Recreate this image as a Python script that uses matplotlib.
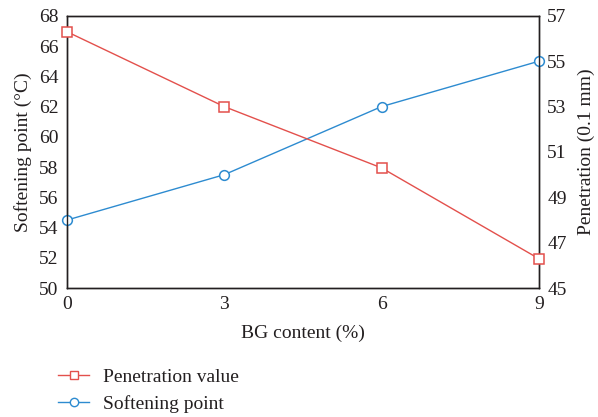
import matplotlib.pyplot as plt
from matplotlib.lines import Line2D

plt.rcParams['font.family'] = ['Liberation Serif', 'DejaVu Serif']

bg_content = [0, 3, 6, 9]
softening_point = [54.5, 57.5, 62.0, 65.0]
penetration = [56.3, 53.0, 50.3, 46.3]

red = '#e3504c'
blue = '#2d8bd0'

fig = plt.figure(figsize=(5.98, 4.17), dpi=100)
ax = fig.add_axes([0.112, 0.309, 0.789, 0.653])
ax2 = ax.twinx()

ax.plot(bg_content, softening_point, color=blue, lw=1.0, marker='o', ms=7,
        mfc='white', mec=blue, mew=1.1, zorder=3, clip_on=False)
ax2.plot(bg_content, penetration, color=red, lw=1.0, marker='s', ms=7,
         mfc='white', mec=red, mew=1.1, zorder=3, clip_on=False)

ax.set_xlim(0, 9)
ax.set_xticks([0, 3, 6, 9])
ax.set_ylim(50, 68)
ax.set_yticks(range(50, 69, 2))
ax2.set_ylim(45, 57)
ax2.set_yticks(range(45, 58, 2))

for a in (ax, ax2):
    a.tick_params(length=0, labelsize=14, colors='#231f20', pad=6)
    for s in a.spines.values():
        s.set_color('#231f20')
        s.set_linewidth(1.0)

ax.set_xlabel('BG content (%)', fontsize=14, color='#231f20', labelpad=8)
ax.set_ylabel('Softening point (°C)', fontsize=14, color='#231f20', labelpad=5)
ax2.set_ylabel('Penetration (0.1 mm)', fontsize=14, color='#231f20', labelpad=8)

handles = [
    Line2D([], [], color=red, lw=1.0, marker='s', ms=6, mfc='white', mec=red, mew=1.0),
    Line2D([], [], color=blue, lw=1.0, marker='o', ms=6, mfc='white', mec=blue, mew=1.0),
]
fig.legend(handles, ['Penetration value', 'Softening point'], loc='upper left',
           bbox_to_anchor=(0.084, 0.135), frameon=False, fontsize=14,
           handlelength=1.6, handletextpad=0.7, labelspacing=0.45,
           borderaxespad=0, labelcolor='#231f20')

fig.savefig('out.png', dpi=100)
